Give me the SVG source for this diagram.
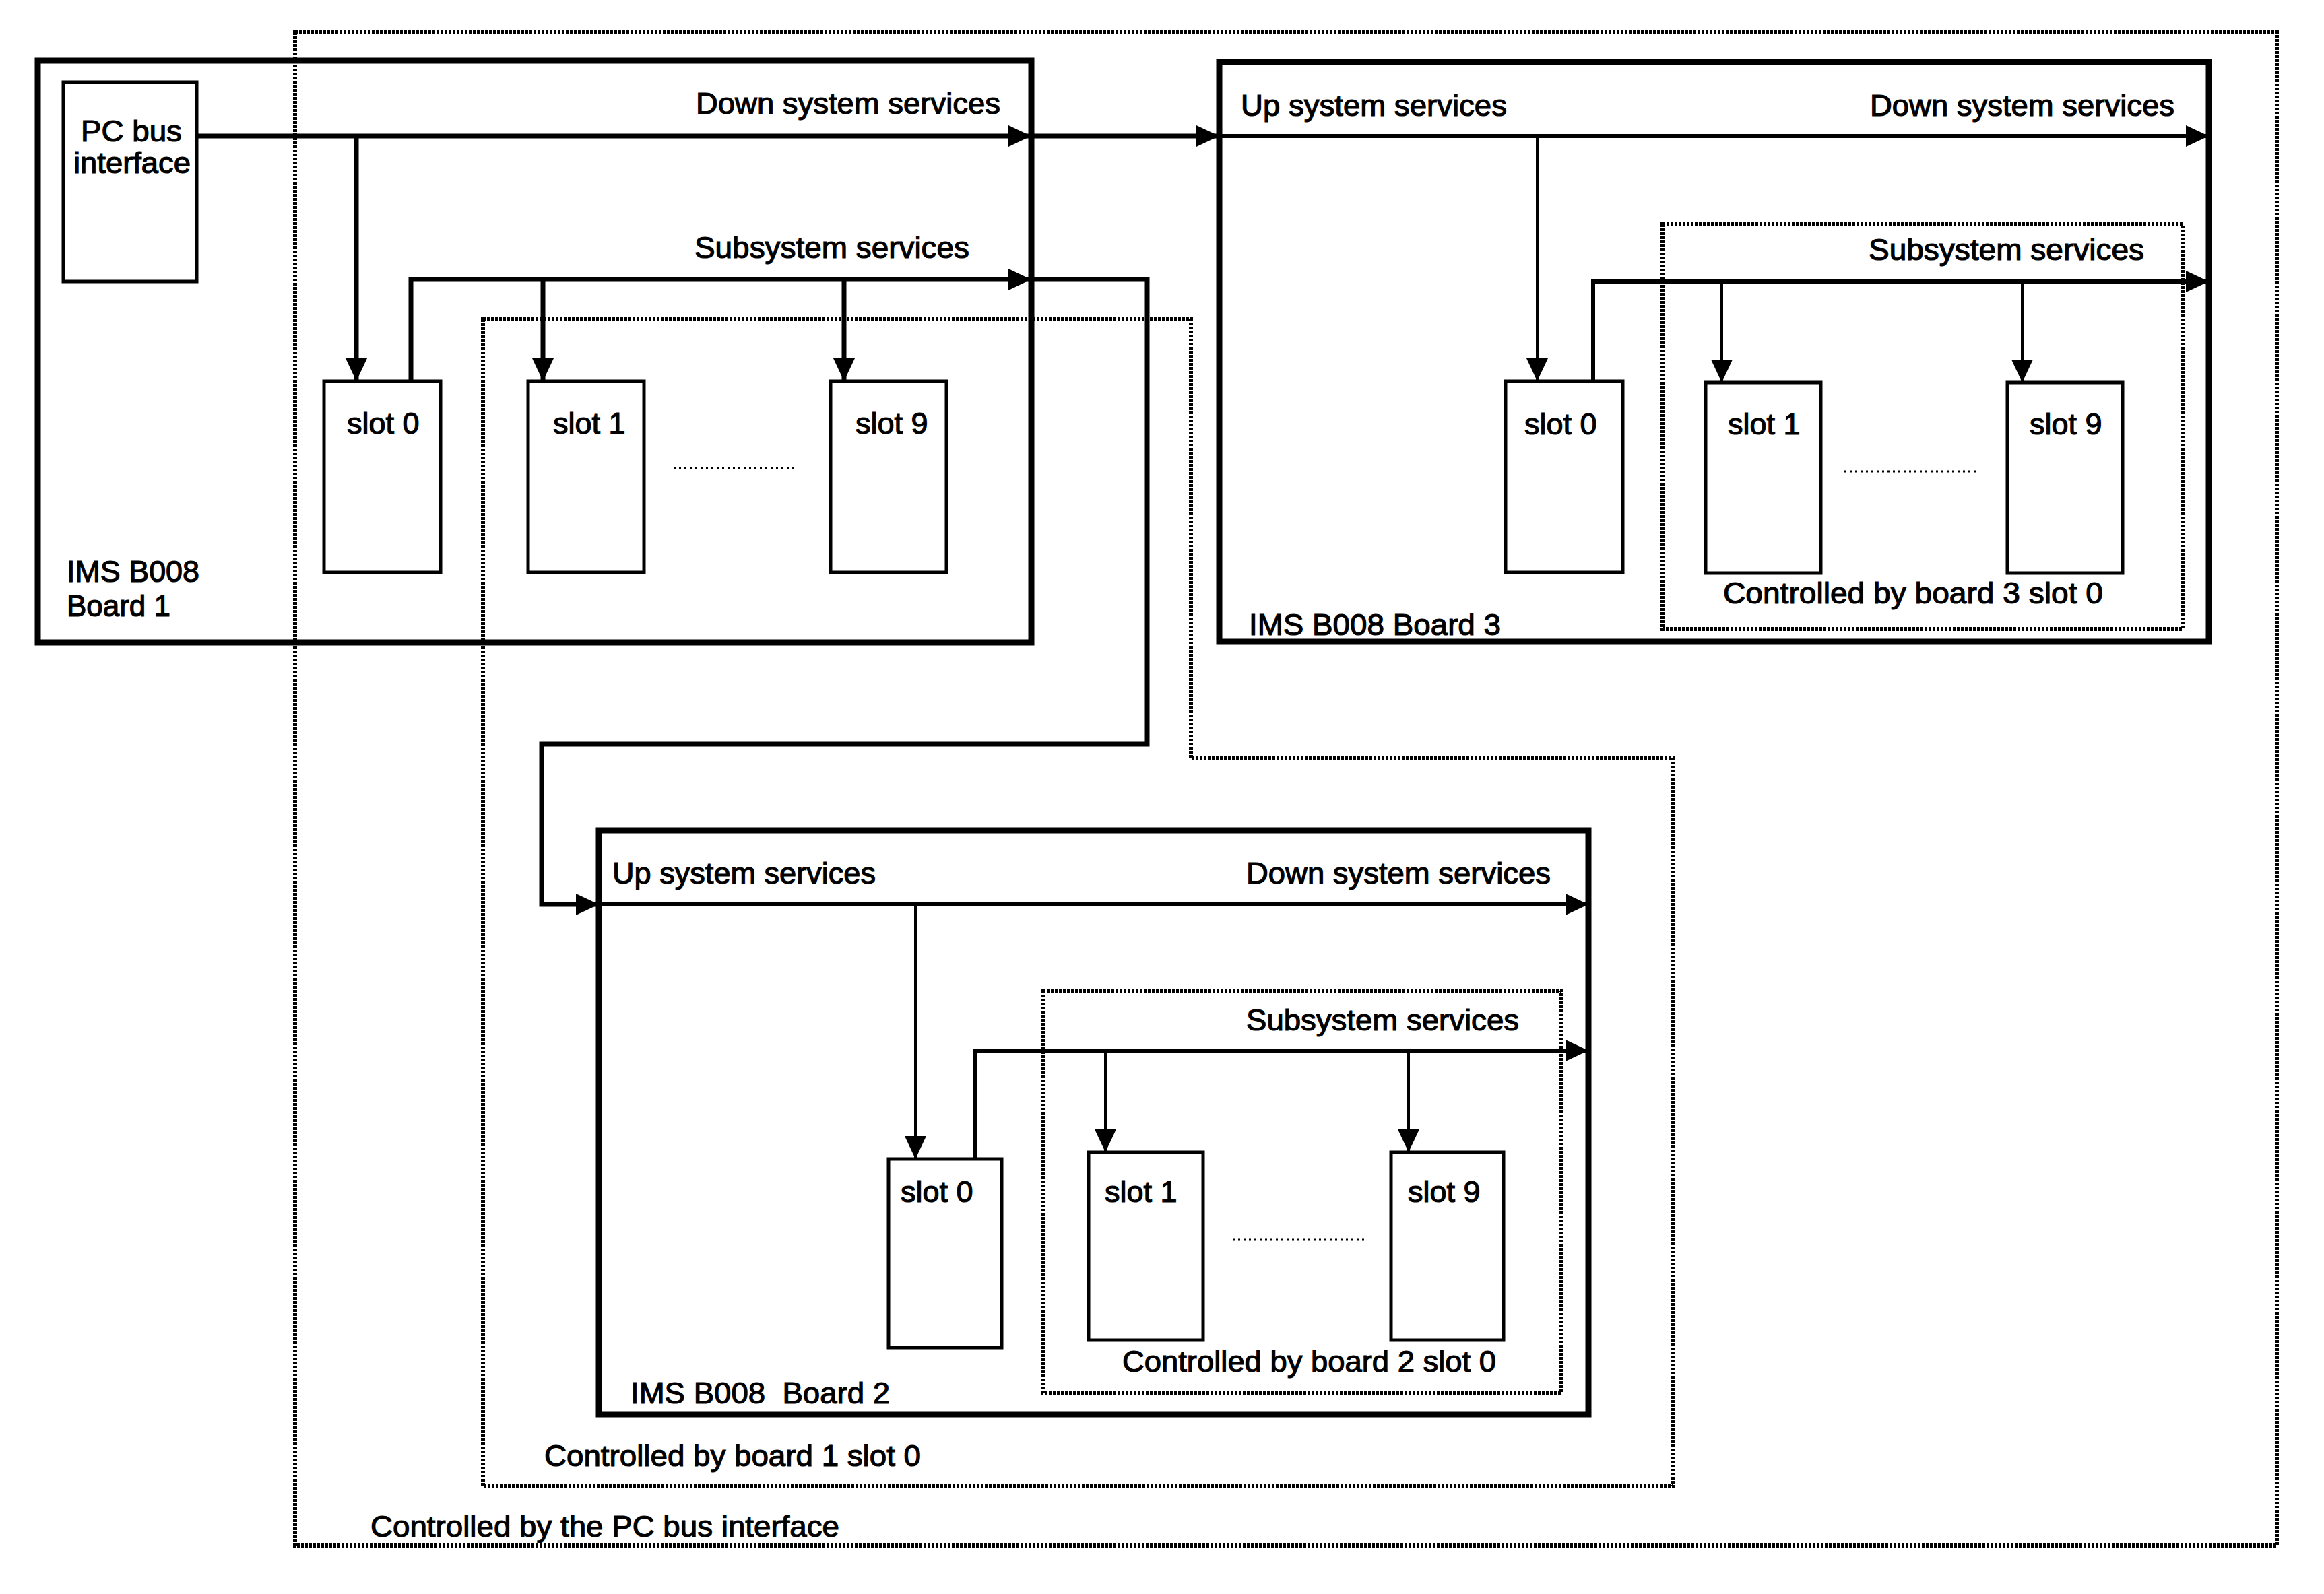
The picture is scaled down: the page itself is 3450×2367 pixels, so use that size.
<svg xmlns="http://www.w3.org/2000/svg" width="3450" height="2367" viewBox="0 0 3450 2367">
<style>
text{font-family:"Liberation Sans",Arial,sans-serif;font-size:45px;fill:#000;stroke:#000;stroke-width:1.2}
.board{fill:none;stroke:#000;stroke-width:9}
.box{fill:#fff;stroke:#000;stroke-width:5}
.ctl{fill:none;stroke:#000;stroke-width:6;stroke-dasharray:4 2}
.bus{fill:none;stroke:#000;stroke-width:7;marker-end:url(#ah)}
.bus2{fill:none;stroke:#000;stroke-width:6;marker-end:url(#ah)}
.drop{fill:none;stroke:#000;stroke-width:4;marker-end:url(#ah)}
.dots{stroke:#000;stroke-width:3;stroke-dasharray:3 5}
</style>
<defs>
<marker id="ah" markerUnits="userSpaceOnUse" markerWidth="36" markerHeight="32" refX="34" refY="16" orient="auto">
<path d="M0,0 L34,16 L0,32 z" fill="#000"/>
</marker>
</defs>
<rect width="3450" height="2367" fill="#fff"/>

<g id="region-pc">
<rect class="ctl" x="438" y="48" width="2942" height="2247"/>
<text x="550" y="2282" textLength="696" lengthAdjust="spacingAndGlyphs">Controlled by the PC bus interface</text>
</g>

<g id="region-board1-slot0">
<path class="ctl" d="M717,474 H1768 V1126 H2484 V2207 H717 Z"/>
<text x="808" y="2177" textLength="559" lengthAdjust="spacingAndGlyphs">Controlled by board 1 slot 0</text>
</g>

<g id="board1">
<rect class="board" x="56" y="90" width="1475" height="864"/>
<text x="99" y="864" textLength="197" lengthAdjust="spacingAndGlyphs">IMS B008</text>
<text x="99" y="915" textLength="154" lengthAdjust="spacingAndGlyphs">Board 1</text>
<text x="1033" y="169" textLength="452" lengthAdjust="spacingAndGlyphs">Down system services</text>
<text x="1031" y="383" textLength="408" lengthAdjust="spacingAndGlyphs">Subsystem services</text>
<line class="dots" x1="1000" y1="695" x2="1184" y2="695"/>
</g>
<g id="pc-bus-interface">
<rect class="box" x="94" y="122" width="198" height="296"/>
<text x="120" y="210" textLength="150" lengthAdjust="spacingAndGlyphs">PC bus</text>
<text x="109" y="257" textLength="174" lengthAdjust="spacingAndGlyphs">interface</text>
</g>
<g id="b1-slot0"><rect class="box" x="481" y="566" width="173" height="284"/><text x="515" y="644">slot 0</text></g>
<g id="b1-slot1"><rect class="box" x="784" y="566" width="172" height="284"/><text x="821" y="644">slot 1</text></g>
<g id="b1-slot9"><rect class="box" x="1233" y="566" width="172" height="284"/><text x="1270" y="644">slot 9</text></g>

<g id="board3">
<rect class="board" x="1810" y="92" width="1469" height="861"/>
<text x="1842" y="172" textLength="395" lengthAdjust="spacingAndGlyphs">Up system services</text>
<text x="2776" y="172" textLength="452" lengthAdjust="spacingAndGlyphs">Down system services</text>
<text x="1854" y="943" textLength="374" lengthAdjust="spacingAndGlyphs">IMS B008 Board 3</text>
</g>
<g id="region-board3-slot0">
<rect class="ctl" x="2468" y="333" width="772" height="601"/>
<text x="2774" y="386" textLength="409" lengthAdjust="spacingAndGlyphs">Subsystem services</text>
<text x="2558" y="896" textLength="564" lengthAdjust="spacingAndGlyphs">Controlled by board 3 slot 0</text>
<line class="dots" x1="2738" y1="700" x2="2933" y2="700"/>
</g>
<g id="b3-slot0"><rect class="box" x="2235" y="566" width="174" height="284"/><text x="2263" y="645">slot 0</text></g>
<g id="b3-slot1"><rect class="box" x="2532" y="568" width="171" height="283"/><text x="2565" y="645">slot 1</text></g>
<g id="b3-slot9"><rect class="box" x="2980" y="568" width="171" height="283"/><text x="3013" y="645">slot 9</text></g>

<g id="board2">
<rect class="board" x="889" y="1233" width="1469" height="867"/>
<text x="909" y="1312" textLength="391" lengthAdjust="spacingAndGlyphs">Up system services</text>
<text x="1850" y="1312" textLength="452" lengthAdjust="spacingAndGlyphs">Down system services</text>
<text x="936" y="2084" textLength="385" lengthAdjust="spacingAndGlyphs" xml:space="preserve">IMS B008  Board 2</text>
</g>
<g id="region-board2-slot0">
<rect class="ctl" x="1548" y="1471" width="770" height="597"/>
<text x="1850" y="1530" textLength="405" lengthAdjust="spacingAndGlyphs">Subsystem services</text>
<text x="1666" y="2037" textLength="555" lengthAdjust="spacingAndGlyphs">Controlled by board 2 slot 0</text>
<line class="dots" x1="1830" y1="1841" x2="2027" y2="1841"/>
</g>
<g id="b2-slot0"><rect class="box" x="1319" y="1721" width="168" height="280"/><text x="1337" y="1785">slot 0</text></g>
<g id="b2-slot1"><rect class="box" x="1616" y="1711" width="170" height="279"/><text x="1640" y="1785">slot 1</text></g>
<g id="b2-slot9"><rect class="box" x="2065" y="1711" width="167" height="279"/><text x="2090" y="1785">slot 9</text></g>

<g id="connectors">
<path class="bus" d="M292,202 H1531"/>
<path class="bus" d="M1531,202 H1810"/>
<path class="bus" d="M529,202 V566"/>
<path class="bus" d="M610,566 V415 H1531"/>
<path class="bus" d="M1531,415 H1703 V1105 H804 V1343 H889"/>
<path class="bus2" d="M889,1343 H2358"/>
<path class="bus" d="M806,415 V566"/>
<path class="bus" d="M1253,415 V566"/>
<path class="bus2" d="M1810,202 H3279"/>
<path class="drop" d="M2282,202 V566"/>
<path class="bus2" d="M2365,566 V418 H3279"/>
<path class="drop" d="M2556,418 V568"/>
<path class="drop" d="M3002,418 V568"/>
<path class="drop" d="M1359,1343 V1721"/>
<path class="bus2" d="M1447,1721 V1560 H2358"/>
<path class="drop" d="M1641,1560 V1711"/>
<path class="drop" d="M2091,1560 V1711"/>
</g>
</svg>
